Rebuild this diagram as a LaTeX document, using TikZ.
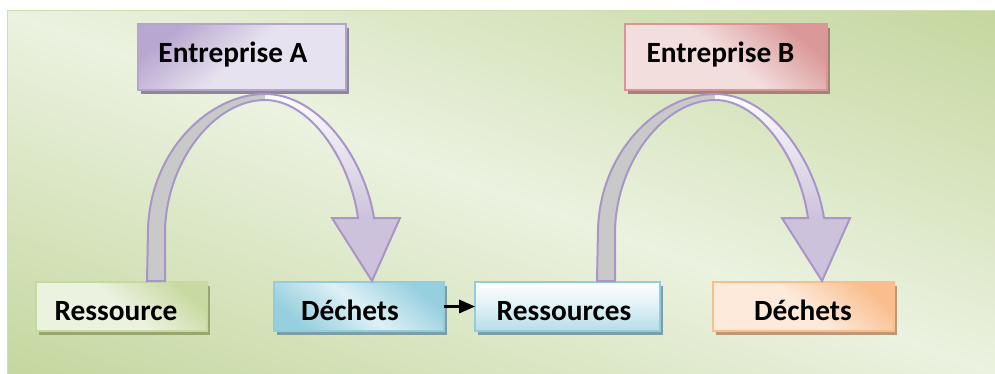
\documentclass[tikz,border=0pt]{standalone}
\usepackage{fontspec}
\setmainfont{Carlito}
\usetikzlibrary{arrows.meta,shadows}
\definecolor{bgdark}{RGB}{196,214,157}
\definecolor{bglight}{RGB}{235,242,224}
\definecolor{bgedge}{RGB}{205,222,175}
\definecolor{aBorder}{RGB}{181,165,203}
\definecolor{aDark}{RGB}{184,167,208}
\definecolor{aLight}{RGB}{231,226,239}
\definecolor{aShadow}{RGB}{143,135,152}
\definecolor{bBorder}{RGB}{217,150,148}
\definecolor{bDark}{RGB}{218,152,152}
\definecolor{bLight}{RGB}{243,222,222}
\definecolor{bShadow}{RGB}{160,132,122}
\definecolor{gBorder}{RGB}{199,217,160}
\definecolor{gDark}{RGB}{200,218,162}
\definecolor{gLight}{RGB}{236,242,224}
\definecolor{gShadow}{RGB}{152,166,112}
\definecolor{cBorder}{RGB}{147,205,221}
\definecolor{cDark}{RGB}{150,207,222}
\definecolor{cLight}{RGB}{222,240,246}
\definecolor{cShadow}{RGB}{124,158,166}
\definecolor{oBorder}{RGB}{249,190,142}
\definecolor{oDark}{RGB}{250,190,142}
\definecolor{oLight}{RGB}{253,234,218}
\definecolor{oShadow}{RGB}{190,152,116}
\definecolor{arrBorder}{RGB}{168,150,200}
\definecolor{arrLav}{RGB}{205,194,220}
\definecolor{arrGrey}{RGB}{201,201,201}
\def\arrowpath{(-118,187) -- (-117,136)
  .. controls (-115,56) and (-55,0) .. (0,0)
  .. controls (55,0) and (100,66) .. (109,124)
  -- (135,124) -- (107,187) -- (67,124) -- (93,124)
  .. controls (85,66) and (45,6) .. (0,6)
  .. controls (-50,6) and (-98,66) .. (-100,136)
  -- (-100,187) -- cycle}
\tikzset{
  box/.style={line width=1.5pt, inner sep=0pt, outer sep=0pt, shading angle=45},
  topbox/.style={box, minimum height=49.5pt},
  lowbox/.style={box, minimum height=36.75pt},
  lbl/.style={font=\bfseries\fontsize{22pt}{26pt}\selectfont, inner sep=0pt, anchor=base},
  shad/.style={general shadow={fill=#1, shadow xshift=2.25pt, shadow yshift=-3pt}},
  pics/curvarrow/.style={code={
    \fill[arrLav] \arrowpath;
    \begin{scope}
      \clip (-130,-5) rectangle (0,200);
      \fill[arrGrey] \arrowpath;
    \end{scope}
    \begin{scope}
      \clip \arrowpath;
      \shade[top color=white, bottom color=arrLav] (0,-2) rectangle (140,124);
    \end{scope}
    \draw[arrBorder, line width=1.5pt, line join=miter] \arrowpath;
  }}
}
\begin{document}
\begin{tikzpicture}[x=0.75pt,y=-0.75pt]
\useasboundingbox (0,0) rectangle (995,374);
% background
\coordinate (bgc) at (501,193);
\begin{scope}
  \clip (7,11) rectangle (997,376);
  \shade[transform canvas={rotate around={-20:(bgc)}}, top color=bgdark, bottom color=bgdark, middle color=bglight]
    (-99,-157) rectangle (1101,543);
\end{scope}
\draw[bgedge, line width=0.75pt] (7,11) rectangle (997,376);
% boxes
\node[topbox, shad=aShadow, draw=aBorder, top color=aDark, bottom color=aLight, middle color=aLight, shading angle=40, minimum width=156pt] (entA) at (242,57.5) {};
\node[topbox, shad=bShadow, draw=bBorder, top color=bDark, bottom color=bLight, middle color=bLight, shading angle=-40, minimum width=151.5pt] (entB) at (726,57.5) {};
\node[lowbox, shad=gShadow, draw=gBorder, top color=gDark, bottom color=gLight, middle color=gLight, shading angle=-40, minimum width=128.25pt] (res1) at (121.5,306.5) {};
\node[lowbox, shad=cShadow, draw=cBorder, top color=cDark, bottom color=cDark, middle color=cLight, shading angle=-40, minimum width=127.5pt] (dech1) at (359,306.5) {};
\node[lowbox, shad=cShadow, draw=cBorder, top color=white, bottom color=cDark!70, middle color=cLight, minimum width=138.75pt] (res2) at (567.5,306.5) {};
\node[lowbox, shad=oShadow, draw=oBorder, top color=oDark, bottom color=oLight, middle color=oLight, shading angle=-40, minimum width=135.75pt] (dech2) at (803.5,306.5) {};
% curved arrows
\pic (arcA) at (265,94) {curvarrow};
\pic (arcB) at (715,94) {curvarrow};
% labels
\node[lbl] (tEntA) at (233,62.7) {Entreprise A};
\node[lbl] (tEntB) at (720.5,62.7) {Entreprise B};
\node[lbl] (tRes1) at (116,320) {Ressource};
\node[lbl] (tDech1) at (350,320) {Déchets};
\node[lbl] (tRes2) at (564,320) {Ressources};
\node[lbl] (tDech2) at (803,320) {Déchets};
% small arrow
\draw[line width=1.8pt, -{Triangle[length=12pt,width=10pt]}] (dech1.east) -- (res2.west);
\end{tikzpicture}
\end{document}
